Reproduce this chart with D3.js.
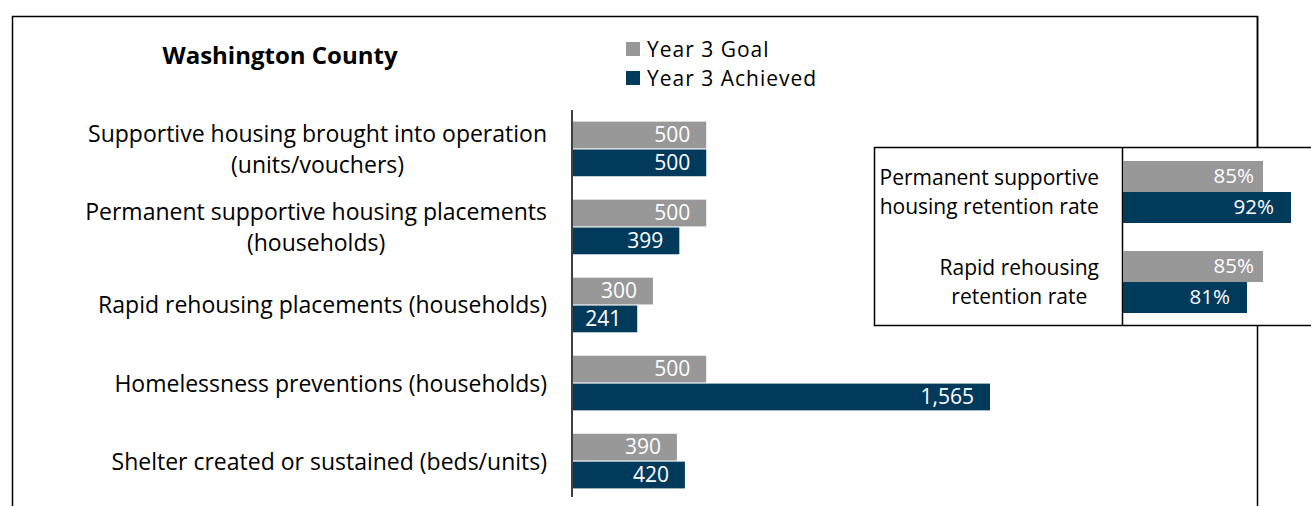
<!DOCTYPE html>
<html>
<head>
<meta charset="utf-8">
<script src="https://d3js.org/d3.v7.min.js"></script>
<style>
  body { margin: 0; background: #fff; }
  text { font-family: "Open Sans", sans-serif; }
</style>
</head>
<body>
<div id="chart"></div>
<script>
// main chart data
const categories = [
  ["Supportive housing brought into operation", "(units/vouchers)"],
  ["Permanent supportive housing placements", "(households)"],
  ["Rapid rehousing placements (households)"],
  ["Homelessness preventions (households)"],
  ["Shelter created or sustained (beds/units)"]
];
const goalValues = [500, 500, 300, 500, 390];
const achievedValues = [500, 399, 241, 1565, 420];

// retention rates inset
const rateCategories = [
  ["Permanent supportive", "housing retention rate"],
  ["Rapid rehousing", "retention rate"]
];
const rateGoal = [0.85, 0.85];
const rateAchieved = [0.92, 0.81];

const seriesNames = ["Year 3 Goal", "Year 3 Achieved"];
const colors = ["#989898", "#023a5b"];

const width = 1311, height = 506;
const svg = d3.select("#chart").append("svg")
    .attr("width", width)
    .attr("height", height);

// outer frame (bottom runs off the picture)
svg.append("path")
    .attr("d", "M12.5,520 V16.5 H1257.5 V520")
    .attr("fill", "none")
    .attr("stroke", "#000")
    .attr("stroke-width", 1.5);

svg.append("text")
    .attr("x", 280).attr("y", 58)
    .attr("text-anchor", "middle")
    .attr("dominant-baseline", "middle")
    .style("font-weight", "bold")
    .style("font-size", "24px")
    .text("Washington County");

// legend
const legend = svg.append("g");
seriesNames.forEach((name, i) => {
    legend.append("rect")
        .attr("x", 626).attr("y", 42 + i * 29)
        .attr("width", 14).attr("height", 14)
        .attr("fill", colors[i]);
    legend.append("text")
        .attr("x", 647).attr("y", 51 + i * 29)
        .attr("dominant-baseline", "middle")
        .style("font-size", "21px")
        .style("letter-spacing", "1px")
        .text(name);
});

// main bars
const x = d3.scaleLinear().domain([0, 1565]).range([573, 990]);
const y0 = d3.scaleBand().domain(d3.range(categories.length)).range([106, 504]).paddingInner(0.3).paddingOuter(0.2);
const y1 = d3.scaleBand().domain([0, 1]).range([0, y0.bandwidth()]).paddingInner(0.04);

const main = svg.append("g");
const groups = main.selectAll("g.grp")
    .data(categories.map((c, i) => ({ c, i, vals: [goalValues[i], achievedValues[i]] })))
    .enter().append("g")
    .attr("class", "grp")
    .attr("transform", d => `translate(0,${y0(d.i)})`);

groups.selectAll("rect")
    .data(d => d.vals)
    .enter().append("rect")
    .attr("x", x(0))
    .attr("y", (v, j) => y1(j))
    .attr("width", v => x(v) - x(0))
    .attr("height", y1.bandwidth())
    .attr("fill", (v, j) => colors[j]);

groups.selectAll("text.val")
    .data(d => d.vals)
    .enter().append("text")
    .attr("class", "val")
    .attr("x", v => x(v) - 16)
    .attr("y", (v, j) => y1(j) + y1.bandwidth() / 2 + 1.5)
    .attr("text-anchor", "end")
    .attr("dominant-baseline", "middle")
    .attr("fill", "#fff")
    .style("font-size", "21px")
    .text(v => d3.format(",")(v));

// category labels, lines centred on each other, block right-aligned
groups.each(function(d) {
    const g = d3.select(this);
    const lh = 31;
    const cy = y0.bandwidth() / 2 + 2.5;
    const t = g.append("text")
        .style("font-size", "23px")
        .attr("text-anchor", "middle")
        .attr("dominant-baseline", "middle");
    const spans = d.c.map((line, k) => t.append("tspan")
        .attr("y", cy + (k - (d.c.length - 1) / 2) * lh)
        .text(line));
    const w = d3.max(spans, s => s.node().getComputedTextLength());
    spans.forEach(s => s.attr("x", 547 - w / 2));
});

svg.append("line")
    .attr("x1", 572).attr("x2", 572)
    .attr("y1", 110).attr("y2", 497)
    .attr("stroke", "#000").attr("stroke-width", 1.5);

// inset panel
const inset = svg.append("g");
inset.append("rect")
    .attr("x", 874.5).attr("y", 147.5)
    .attr("width", 460).attr("height", 178)
    .attr("fill", "#fff")
    .attr("stroke", "#000").attr("stroke-width", 1.5);
inset.append("line")
    .attr("x1", 1122.5).attr("x2", 1122.5)
    .attr("y1", 147.5).attr("y2", 325.5)
    .attr("stroke", "#000").attr("stroke-width", 1.5);

const rx = d3.scaleLinear().domain([0.5, 1]).range([1123, 1323]);
const ry0 = d3.scaleBand().domain(d3.range(rateCategories.length)).range([161, 313]).paddingInner(0.311).paddingOuter(0);
const ry1 = d3.scaleBand().domain([0, 1]).range([0, ry0.bandwidth()]);
const pads = [9, 17];

const rg = inset.selectAll("g.rg")
    .data(rateCategories.map((c, i) => ({ c, i, vals: [rateGoal[i], rateAchieved[i]] })))
    .enter().append("g")
    .attr("class", "rg")
    .attr("transform", d => `translate(0,${ry0(d.i)})`);

rg.selectAll("rect")
    .data(d => d.vals)
    .enter().append("rect")
    .attr("x", rx(0.5))
    .attr("y", (v, j) => ry1(j))
    .attr("width", v => rx(v) - rx(0.5))
    .attr("height", ry1.bandwidth())
    .attr("fill", (v, j) => colors[j]);

rg.selectAll("text.val")
    .data(d => d.vals)
    .enter().append("text")
    .attr("class", "val")
    .attr("x", (v, j) => rx(v) - pads[j])
    .attr("y", (v, j) => ry1(j) + ry1.bandwidth() / 2 + 1.5)
    .attr("text-anchor", "end")
    .attr("dominant-baseline", "middle")
    .attr("fill", "#fff")
    .style("font-size", "20.5px")
    .text(v => d3.format(".0%")(v));

rg.each(function(d) {
    const g = d3.select(this);
    const cy = ry0.bandwidth() / 2 + 1.5;
    const t = g.append("text")
        .style("font-size", "21px")
        .attr("text-anchor", "middle")
        .attr("dominant-baseline", "middle");
    const spans = d.c.map((line, k) => t.append("tspan")
        .attr("y", cy + (k - 0.5) * 29)
        .text(line));
    const w = d3.max(spans, s => s.node().getComputedTextLength());
    spans.forEach(s => s.attr("x", 1099 - w / 2));
});

// frame's right edge shows above/below the inset
svg.append("line")
    .attr("x1", 1257.5).attr("x2", 1257.5)
    .attr("y1", 16).attr("y2", 147)
    .attr("stroke", "#000").attr("stroke-width", 1.5);
</script>
</body>
</html>
